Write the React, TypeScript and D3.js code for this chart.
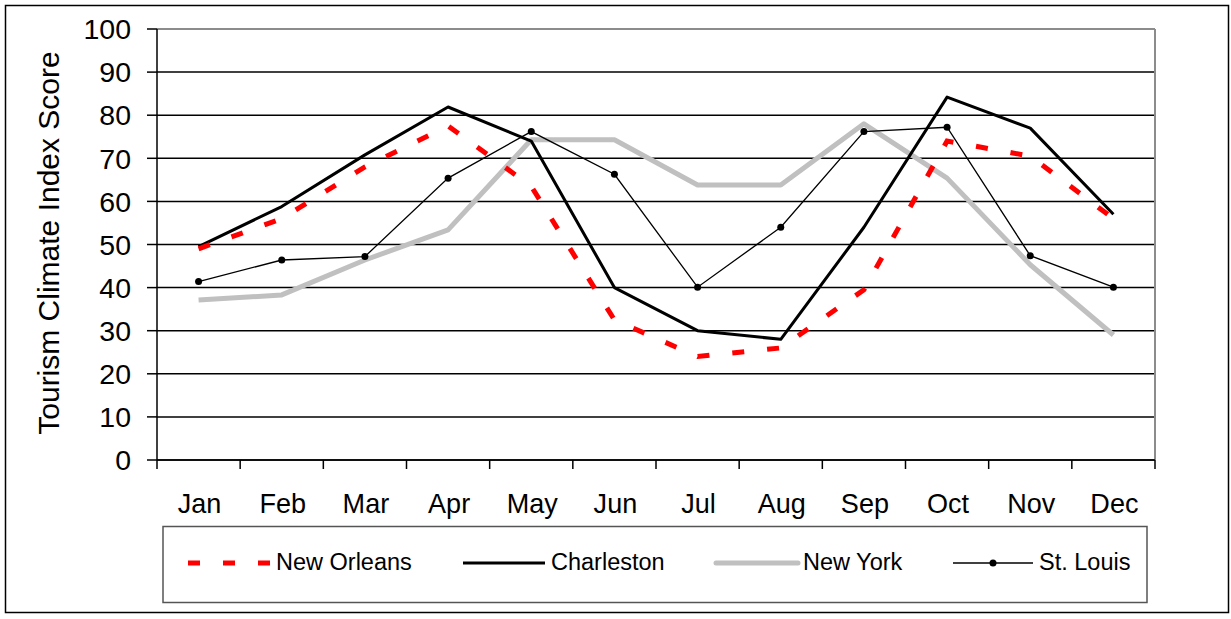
import React from "react";
import * as d3 from "d3";

const months = ["Jan", "Feb", "Mar", "Apr", "May", "Jun", "Jul", "Aug", "Sep", "Oct", "Nov", "Dec"];
const newOrleans = [49, 56, 68, 77.5, 63.5, 32.5, 24, 26, 39.5, 74, 70.5, 56];
const charleston = [49.5, 58.8, 70.8, 81.9, 74, 40, 30, 28, 54, 84.2, 77, 57];
const newYork = [37.1, 38.3, 46.4, 53.4, 74.3, 74.3, 63.8, 63.8, 78, 65.4, 45.3, 29];
const stLouis = [41.4, 46.4, 47.2, 65.4, 76.2, 66.3, 40.1, 54, 76.2, 77.2, 47.4, 40.1];
const yTicks = [0, 10, 20, 30, 40, 50, 60, 70, 80, 90, 100];
const legendNames = ["New Orleans", "Charleston", "New York", "St. Louis"];

const W = 1231;
const H = 619;
const FONT = "'Liberation Sans', Arial, sans-serif";

export default function App() {
  const left = 157;
  const right = 1155;
  const top = 29;
  const bottom = 460;

  const x = d3.scaleBand<string>().domain(months).range([left, right]).padding(0);
  const y = d3.scaleLinear().domain([0, 100]).range([bottom, top]);
  const cx = (m: string) => (x(m) as number) + x.bandwidth() / 2;

  const line = d3
    .line<number>()
    .x((_, i) => cx(months[i]))
    .y((d) => y(d));

  const boundaries = months.map((m) => x(m) as number).concat([right]);

  const legendY = 563;
  const legendItems = [
    { x0: 188, x1: 270, tx: 276 },
    { x0: 463, x1: 545, tx: 551 },
    { x0: 716, x1: 798, tx: 803 },
    { x0: 953, x1: 1033, tx: 1039 },
  ];

  return (
    <svg
      width={W}
      height={H}
      style={{ position: "absolute", left: 0, top: 0, background: "#fff" }}
      fontFamily={FONT}
    >
      <rect x={0} y={0} width={W} height={H} fill="#fff" />
      {/* outer frame */}
      <rect x={5.5} y={5.5} width={1223} height={607} fill="none" stroke="#000" strokeWidth={1.5} />

      {/* gridlines */}
      {yTicks.map((t) => (
        <line
          key={"g" + t}
          x1={left}
          x2={right}
          y1={y(t)}
          y2={y(t)}
          stroke={t === 100 ? "#8c8c8c" : "#000"}
          strokeWidth={t === 100 ? 2 : 1.5}
        />
      ))}
      {/* right border of plot area */}
      <line x1={right} x2={right} y1={top} y2={bottom} stroke="#8c8c8c" strokeWidth={2} />

      {/* y axis */}
      <line x1={left} x2={left} y1={top} y2={bottom} stroke="#000" strokeWidth={1.5} />
      {yTicks.map((t) => (
        <g key={"yt" + t}>
          <line x1={left - 10} x2={left} y1={y(t)} y2={y(t)} stroke="#000" strokeWidth={1.5} />
          <text
            x={131}
            y={y(t)}
            dy="0.36em"
            textAnchor="end"
            fontSize={28.5}
            fill="#000"
          >
            {t}
          </text>
        </g>
      ))}

      {/* x axis */}
      <line x1={left} x2={right} y1={bottom} y2={bottom} stroke="#000" strokeWidth={1.5} />
      {boundaries.map((b, i) => (
        <line key={"xt" + i} x1={b} x2={b} y1={bottom} y2={bottom + 9} stroke="#000" strokeWidth={1.5} />
      ))}
      {months.map((m) => (
        <text
          key={"xl" + m}
          transform={`translate(${cx(m) + 1},513) scale(0.95,1)`}
          textAnchor="middle"
          fontSize={28.5}
          fill="#000"
        >
          {m}
        </text>
      ))}

      {/* y axis title */}
      <text
        transform={`translate(59,${243}) rotate(-90)`}
        textAnchor="middle"
        fontSize={30}
        fill="#000"
      >
        Tourism Climate Index Score
      </text>

      {/* series */}
      <path d={line(newYork) || ""} fill="none" stroke="#c0c0c0" strokeWidth={5} strokeLinejoin="round" />
      <path d={line(charleston) || ""} fill="none" stroke="#000" strokeWidth={3} strokeLinejoin="round" />
      <path d={line(newOrleans) || ""} fill="none" stroke="#ff0000" strokeWidth={5} strokeDasharray="12 23" />
      <path d={line(stLouis) || ""} fill="none" stroke="#000" strokeWidth={1.3} />
      {stLouis.map((v, i) => (
        <circle key={"sl" + i} cx={cx(months[i])} cy={y(v)} r={3.5} fill="#000" />
      ))}

      {/* legend */}
      <rect x={163} y={526.5} width={984} height={76} fill="#fff" stroke="#555" strokeWidth={1.5} />
      <line x1={legendItems[0].x0} x2={legendItems[0].x1} y1={legendY} y2={legendY} stroke="#ff0000" strokeWidth={5} strokeDasharray="12 23" />
      <line x1={legendItems[1].x0} x2={legendItems[1].x1} y1={legendY} y2={legendY} stroke="#000" strokeWidth={3} />
      <line x1={legendItems[2].x0} x2={legendItems[2].x1} y1={legendY} y2={legendY} stroke="#c0c0c0" strokeWidth={5} strokeLinecap="round" />
      <line x1={legendItems[3].x0} x2={legendItems[3].x1} y1={legendY} y2={legendY} stroke="#000" strokeWidth={1.3} />
      <circle cx={(legendItems[3].x0 + legendItems[3].x1) / 2} cy={legendY} r={3.5} fill="#000" />
      {legendNames.map((n, i) => (
        <text key={"ln" + n} x={legendItems[i].tx} y={569.5} fontSize={23.5} fill="#000">
          {n}
        </text>
      ))}
    </svg>
  );
}
